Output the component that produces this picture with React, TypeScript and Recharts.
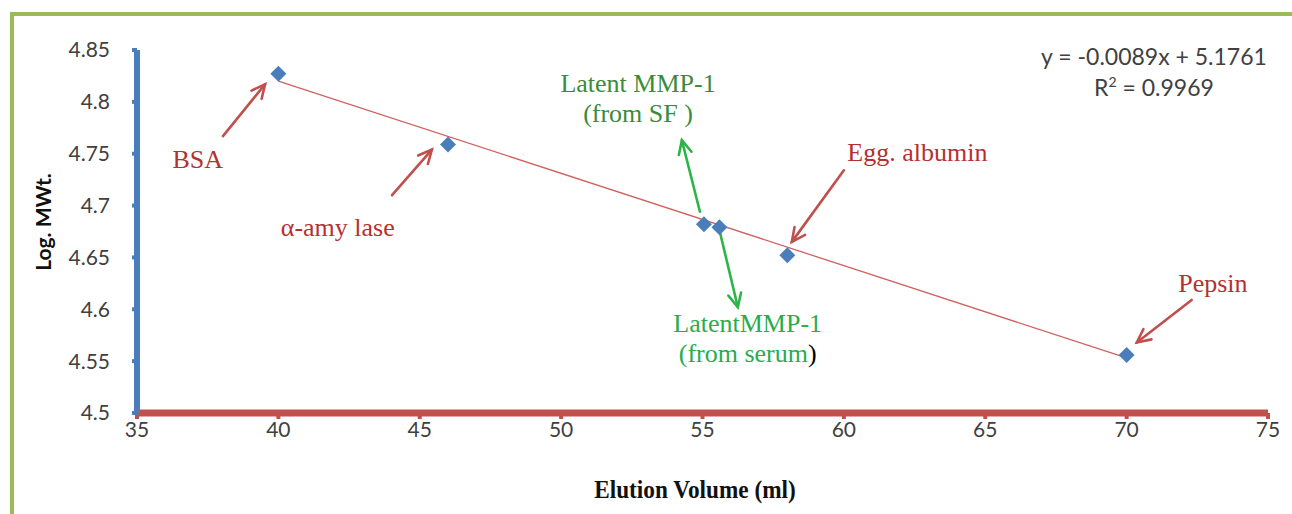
import { ScatterChart, Scatter, XAxis, YAxis, ReferenceLine, ReferenceDot } from "recharts";

// elution volume (ml) vs log molecular weight of the standards and samples
const elutionVolume = [40, 46, 55.05, 55.6, 58, 70];
const logMWt = [4.827, 4.759, 4.682, 4.679, 4.652, 4.556];

const xTicks = [35, 40, 45, 50, 55, 60, 65, 70, 75];
const yTicks = [4.5, 4.55, 4.6, 4.65, 4.7, 4.75, 4.8, 4.85];

// linear fit shown on the chart
const slope = -0.0089;
const intercept = 5.1761;
const rSquared = 0.9969;
const fitRange = [40, 70];

// annotation labels (data coordinates of the first text line)
const labelText = [
  ["BSA"],
  ["\u03b1-amy lase"],
  ["Latent MMP-1", "(from SF )"],
  ["LatentMMP-1", "(from serum"],
  ["Egg. albumin"],
  ["Pepsin"],
];
const labelX = [37.15, 42.1, 52.72, 56.6, 62.6, 73.05];
const labelY = [4.745, 4.679, 4.818, 4.587, 4.752, 4.625];
const labelColor = ["#b5302f", "#b5302f", "#3b8b3b", "#27ad4c", "#b5302f", "#b5302f"];

// arrows: tail -> head, data coordinates
const arrowFromX = [38.04, 44.02, 54.91, 55.62, 60.0, 72.3];
const arrowFromY = [4.767, 4.71, 4.694, 4.674, 4.734, 4.609];
const arrowToX = [39.53, 45.43, 54.27, 56.25, 58.16, 70.36];
const arrowToY = [4.817, 4.754, 4.763, 4.602, 4.665, 4.568];
const arrowColor = ["#c0504d", "#c0504d", "#2db34a", "#2db34a", "#c0504d", "#c0504d"];

const points = elutionVolume.map((x, i) => ({ x, y: logMWt[i] }));

const sans = "Lato, 'Open Sans', sans-serif";
const serif = "'Liberation Serif', 'Times New Roman', serif";
const tickStyle = { fontSize: 21, fill: "#404040", fontFamily: sans };

const Diamond = (props: any) => {
  const { cx, cy } = props;
  const r = 8;
  return <path d={`M${cx},${cy - r}L${cx + r},${cy}L${cx},${cy + r}L${cx - r},${cy}Z`} fill="#4a7ebb" />;
};

const makeArrow = (color: string) => (props: any) => {
  const { x1, y1, x2, y2 } = props;
  if ([x1, y1, x2, y2].some((v) => v == null || isNaN(v))) return null;
  const ang = Math.atan2(y2 - y1, x2 - x1);
  const len = 15;
  const spread = 0.45;
  const ax = x2 - len * Math.cos(ang - spread);
  const ay = y2 - len * Math.sin(ang - spread);
  const bx = x2 - len * Math.cos(ang + spread);
  const by = y2 - len * Math.sin(ang + spread);
  return (
    <g stroke={color} strokeWidth={2.6} fill="none" strokeLinecap="round">
      <line x1={x1} y1={y1} x2={x2} y2={y2} />
      <polyline points={`${ax},${ay} ${x2},${y2} ${bx},${by}`} />
    </g>
  );
};

const makeLabel = (i: number) => (props: any) => {
  const { cx, cy } = props;
  const lines = labelText[i];
  const lh = 30;
  return (
    <text textAnchor="middle" fontFamily={serif} fontSize={26} fill={labelColor[i]}>
      {lines.map((ln, j) => (
        <tspan key={j} x={cx} y={cy + j * lh + 9}>
          {ln}
          {i === 3 && j === 1 ? <tspan fill="#000">)</tspan> : null}
        </tspan>
      ))}
    </text>
  );
};

export default function App() {
  return (
    <div style={{ position: "absolute", left: 0, top: 0, width: 1292, height: 514, overflow: "hidden", background: "#fff" }}>
      <div
        style={{
          position: "absolute",
          left: 10,
          top: 12,
          width: 1320,
          height: 540,
          border: "4px solid #9bbb59",
          boxSizing: "border-box",
        }}
      />
      <div
        style={{
          position: "absolute",
          left: 1020,
          top: 41,
          width: 268,
          textAlign: "center",
          fontFamily: sans,
          fontSize: 23,
          lineHeight: "31px",
          color: "#404040",
        }}
      >
        <div>y = {slope}x + {intercept}</div>
        <div>
          R<sup style={{ fontSize: 14, lineHeight: 0 }}>2</sup> = {rSquared}
        </div>
      </div>
      <div
        style={{
          position: "absolute",
          left: 545,
          top: 476,
          width: 300,
          textAlign: "center",
          fontFamily: serif,
          fontWeight: "bold",
          fontSize: 25,
          color: "#111",
          transform: "scaleX(0.93)",
        }}
      >
        Elution Volume (ml)
      </div>
      <ScatterChart width={1292} height={514} margin={{ top: 50, right: 24, left: 0, bottom: 0 }} style={{ position: "absolute", left: 0, top: 0 }}>
        <XAxis
          type="number"
          dataKey="x"
          domain={[35, 75]}
          ticks={xTicks}
          height={101}
          tick={tickStyle}
          tickSize={6}
          tickMargin={3}
          axisLine={{ stroke: "#c0504d", strokeWidth: 7 }}
          tickLine={{ stroke: "#c0504d", strokeWidth: 4 }}
        />
        <YAxis
          type="number"
          dataKey="y"
          domain={[4.5, 4.85]}
          ticks={yTicks}
          width={137}
          tick={tickStyle}
          tickSize={5}
          tickMargin={22}
          tickFormatter={(v: number) => String(v)}
          axisLine={{ stroke: "#4a7ebb", strokeWidth: 6 }}
          tickLine={{ stroke: "#4a7ebb", strokeWidth: 4 }}
          label={{
            content: () => (
              <text
                x={42}
                y={222}
                transform="rotate(-90, 42, 222)"
                textAnchor="middle"
                dominantBaseline="central"
                fontFamily={sans}
                fontWeight="bold"
                fontSize={21}
                fill="#111"
              >
                Log. MWt.
              </text>
            ),
          }}
        />
        <ReferenceLine
          segment={[
            { x: fitRange[0], y: slope * fitRange[0] + intercept },
            { x: fitRange[1], y: slope * fitRange[1] + intercept },
          ]}
          stroke="#d0605e"
          strokeWidth={1.3}
          ifOverflow="visible"
        />
        {arrowFromX.map((_, i) => (
          <ReferenceLine
            key={`a${i}`}
            segment={[
              { x: arrowFromX[i], y: arrowFromY[i] },
              { x: arrowToX[i], y: arrowToY[i] },
            ]}
            ifOverflow="visible"
            shape={makeArrow(arrowColor[i])}
          />
        ))}
        {labelX.map((_, i) => (
          <ReferenceDot key={`l${i}`} x={labelX[i]} y={labelY[i]} r={0} ifOverflow="visible" shape={makeLabel(i)} />
        ))}
        <Scatter data={points} shape={Diamond} isAnimationActive={false} />
      </ScatterChart>
    </div>
  );
}
